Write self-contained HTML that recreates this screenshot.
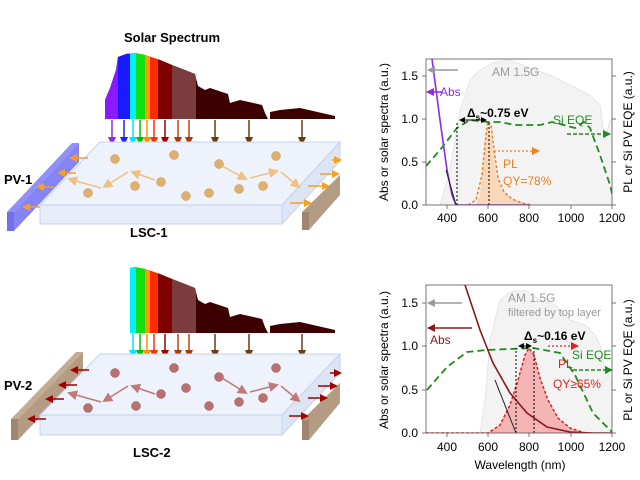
<!DOCTYPE html>
<html><head><meta charset="utf-8"><style>
html,body{margin:0;padding:0;background:#fff;}
svg{display:block;font-family:"Liberation Sans",Arial,sans-serif;}
</style></head><body>
<svg width="640" height="480" viewBox="0 0 640 480" xmlns="http://www.w3.org/2000/svg">
<defs>
<marker id="mo" markerWidth="8" markerHeight="8" refX="6" refY="4" orient="auto" markerUnits="userSpaceOnUse"><path d="M0,0 L8,4 L0,8 z" fill="#f5a020"/></marker>
<marker id="mt" markerWidth="10" markerHeight="10" refX="8" refY="5" orient="auto" markerUnits="userSpaceOnUse"><path d="M0,0 L10,5 L0,10 z" fill="#f0c080"/></marker>
<marker id="mr" markerWidth="8" markerHeight="8" refX="6" refY="4" orient="auto" markerUnits="userSpaceOnUse"><path d="M0,0 L8,4 L0,8 z" fill="#a00000"/></marker>
<marker id="mp" markerWidth="10" markerHeight="10" refX="8" refY="5" orient="auto" markerUnits="userSpaceOnUse"><path d="M0,0 L10,5 L0,10 z" fill="#c07878"/></marker>
<marker id="ag" markerWidth="8" markerHeight="8" refX="7" refY="4" orient="auto" markerUnits="userSpaceOnUse"><path d="M0,0 L8,4 L0,8 z" fill="#999"/></marker>
<marker id="av" markerWidth="8" markerHeight="8" refX="7" refY="4" orient="auto" markerUnits="userSpaceOnUse"><path d="M0,0 L8,4 L0,8 z" fill="#8a2be2"/></marker>
<marker id="ad" markerWidth="8" markerHeight="8" refX="7" refY="4" orient="auto" markerUnits="userSpaceOnUse"><path d="M0,0 L8,4 L0,8 z" fill="#8b1a1a"/></marker>
<marker id="aor" markerWidth="8" markerHeight="8" refX="7" refY="4" orient="auto" markerUnits="userSpaceOnUse"><path d="M0,0 L8,4 L0,8 z" fill="#f08020"/></marker>
<marker id="are" markerWidth="8" markerHeight="8" refX="7" refY="4" orient="auto" markerUnits="userSpaceOnUse"><path d="M0,0 L8,4 L0,8 z" fill="#e02020"/></marker>
<marker id="agr" markerWidth="8" markerHeight="8" refX="7" refY="4" orient="auto" markerUnits="userSpaceOnUse"><path d="M0,0 L8,4 L0,8 z" fill="#1e8c1e"/></marker>
<marker id="ak" markerWidth="6" markerHeight="6" refX="5" refY="3" orient="auto" markerUnits="userSpaceOnUse"><path d="M0,0 L6,3 L0,6 z" fill="#000"/></marker>
<marker id="aks" markerWidth="6" markerHeight="6" refX="1" refY="3" orient="auto" markerUnits="userSpaceOnUse"><path d="M6,0 L0,3 L6,6 z" fill="#000"/></marker>
<clipPath id="env1"><polygon points="105,119 105,100 110,88 116,70 118,57 126,54 135,53 145,55 160,60 172,65 185,70 195,74 198,86 205,90 210,88 228,94 230,103 240,100 262,105 265,113 268,119"/><polygon points="270,119 270,112 280,110 300,108 335,116 335,119"/></clipPath>
<clipPath id="env2"><polygon points="130,333 130,268 135,267 145,269 160,274 172,279 185,284 195,288 198,300 205,304 210,302 228,308 230,317 240,314 262,319 265,327 268,333"/><polygon points="270,333 270,326 280,324 300,322 335,330 335,333"/></clipPath>
<clipPath id="c1"><rect x="426" y="59" width="186" height="146"/></clipPath>
<clipPath id="c2"><rect x="426" y="285" width="186" height="148"/></clipPath>
</defs>

<text x="172" y="42" font-size="13" font-weight="bold" text-anchor="middle">Solar Spectrum</text>
<g clip-path="url(#env1)">
<rect x="100" y="40" width="240" height="80" fill="#3d0000"/>
<rect x="100" y="40" width="18" height="80" fill="#8a1aff"/>
<rect x="118" y="40" width="12" height="80" fill="#1a1aff"/>
<rect x="130" y="40" width="6" height="80" fill="#00f0ff"/>
<rect x="136" y="40" width="9" height="80" fill="#10e010"/>
<rect x="145" y="40" width="5" height="80" fill="#ff9900"/>
<rect x="150" y="40" width="8" height="80" fill="#ff2a00"/>
<rect x="158" y="40" width="14" height="80" fill="#800000"/>
<rect x="172" y="40" width="24" height="80" fill="#7a3c3c"/>
</g>
<g stroke-width="1.5">
<line x1="112" y1="120" x2="112" y2="138" stroke="#8a2be2"/><path d="M108,137 L116,137 L112,146z" fill="#8a2be2"/>
<line x1="124" y1="120" x2="124" y2="138" stroke="#2020ff"/><path d="M120,137 L128,137 L124,146z" fill="#2020ff"/>
<line x1="133" y1="120" x2="133" y2="138" stroke="#00e5ff"/><path d="M129,137 L137,137 L133,146z" fill="#00e5ff"/>
<line x1="140" y1="120" x2="140" y2="138" stroke="#00c000"/><path d="M136,137 L144,137 L140,146z" fill="#00c000"/>
<line x1="147" y1="120" x2="147" y2="138" stroke="#ff9000"/><path d="M143,137 L151,137 L147,146z" fill="#ff9000"/>
<line x1="154" y1="120" x2="154" y2="138" stroke="#ff3000"/><path d="M150,137 L158,137 L154,146z" fill="#ff3000"/>
<line x1="165" y1="120" x2="165" y2="138" stroke="#a00000"/><path d="M161,137 L169,137 L165,146z" fill="#a00000"/>
<line x1="178" y1="120" x2="178" y2="138" stroke="#b04818"/><path d="M174,137 L182,137 L178,146z" fill="#a83a10"/>
<line x1="189" y1="120" x2="189" y2="138" stroke="#b04818"/><path d="M185,137 L193,137 L189,146z" fill="#a83a10"/>
<line x1="215" y1="120" x2="215" y2="138" stroke="#6b3a10"/><path d="M211,137 L219,137 L215,146z" fill="#6b3a10"/>
<line x1="249" y1="120" x2="249" y2="138" stroke="#6b3a10"/><path d="M245,137 L253,137 L249,146z" fill="#6b3a10"/>
<line x1="302" y1="120" x2="302" y2="138" stroke="#6b3a10"/><path d="M298,137 L306,137 L302,146z" fill="#6b3a10"/>
</g>
<polygon points="7,212 72,143 79,143 14,212" fill="#9090f8"/>
<polygon points="7,212 14,212 14,231 7,231" fill="#7070e8"/>
<polygon points="14,212 79,143 79,162 14,231" fill="#8484f4"/>
<polygon points="100,142 340,142 282,205 40,205" fill="#eef2fb" stroke="#c4d2ee"/>
<polygon points="40,205 282,205 282,224 40,224" fill="#e6ecf8" stroke="#c4d2ee"/>
<polygon points="282,205 340,142 340,161 282,224" fill="#dde5f4" stroke="#c4d2ee"/>
<polygon points="302,212 340,175 340,195 309,230 302,230" fill="#b49c84"/>
<polygon points="302,212 309,212 309,230 302,230" fill="#a08670"/>
<text x="4" y="184" font-size="13" font-weight="bold">PV-1</text>
<text x="130" y="237" font-size="13" font-weight="bold">LSC-1</text>
<g fill="#ddb070" stroke="#c89850" stroke-width="0.5">
<circle cx="115" cy="159" r="4.5"/><circle cx="174" cy="155" r="4.5"/><circle cx="219" cy="164" r="4.5"/><circle cx="276" cy="156" r="4.5"/><circle cx="135" cy="186" r="4.5"/><circle cx="161" cy="182" r="4.5"/><circle cx="88" cy="193" r="4.5"/><circle cx="186" cy="196" r="4.5"/><circle cx="209" cy="193" r="4.5"/><circle cx="239" cy="189" r="4.5"/><circle cx="263" cy="186" r="4.5"/>
</g>
<g stroke="#f0c080" stroke-width="1.5" fill="none">
<line x1="155" y1="180" x2="132" y2="172" marker-end="url(#mt)"/>
<line x1="128" y1="172" x2="104" y2="187" marker-end="url(#mt)"/>
<line x1="101" y1="188" x2="69" y2="179" marker-end="url(#mt)"/>
<line x1="222" y1="166" x2="246" y2="179" marker-end="url(#mt)"/>
<line x1="250" y1="178" x2="277" y2="171" marker-end="url(#mt)"/>
<line x1="281" y1="172" x2="299" y2="187" marker-end="url(#mt)"/>
</g>
<g stroke="#f5a020" stroke-width="1.5">
<line x1="88" y1="158" x2="71" y2="158" marker-end="url(#mo)"/>
<line x1="76" y1="173" x2="59" y2="173" marker-end="url(#mo)"/>
<line x1="54" y1="187" x2="38" y2="187" marker-end="url(#mo)"/>
<line x1="40" y1="207" x2="24" y2="207" marker-end="url(#mo)"/>
<line x1="332" y1="160" x2="340" y2="160" marker-end="url(#mo)"/>
<line x1="320" y1="174" x2="338" y2="174" marker-end="url(#mo)"/>
<line x1="308" y1="186" x2="328" y2="186" marker-end="url(#mo)"/>
<line x1="290" y1="203" x2="310" y2="203" marker-end="url(#mo)"/>
</g>

<g clip-path="url(#env2)">
<rect x="100" y="260" width="240" height="80" fill="#3d0000"/>
<rect x="130" y="260" width="6" height="80" fill="#00f0ff"/>
<rect x="136" y="260" width="9" height="80" fill="#10e010"/>
<rect x="145" y="260" width="5" height="80" fill="#ff9900"/>
<rect x="150" y="260" width="8" height="80" fill="#ff2a00"/>
<rect x="158" y="260" width="14" height="80" fill="#800000"/>
<rect x="172" y="260" width="24" height="80" fill="#7a3c3c"/>
</g>
<g stroke-width="1.5">
<line x1="133" y1="334" x2="133" y2="351" stroke="#00e5ff"/><path d="M129,350 L137,350 L133,359z" fill="#00e5ff"/>
<line x1="140" y1="334" x2="140" y2="351" stroke="#00c000"/><path d="M136,350 L144,350 L140,359z" fill="#00c000"/>
<line x1="147" y1="334" x2="147" y2="351" stroke="#ff9000"/><path d="M143,350 L151,350 L147,359z" fill="#ff9000"/>
<line x1="154" y1="334" x2="154" y2="351" stroke="#ff3000"/><path d="M150,350 L158,350 L154,359z" fill="#ff3000"/>
<line x1="165" y1="334" x2="165" y2="351" stroke="#a00000"/><path d="M161,350 L169,350 L165,359z" fill="#a00000"/>
<line x1="178" y1="334" x2="178" y2="351" stroke="#b04818"/><path d="M174,350 L182,350 L178,359z" fill="#a83a10"/>
<line x1="189" y1="334" x2="189" y2="351" stroke="#b04818"/><path d="M185,350 L193,350 L189,359z" fill="#a83a10"/>
<line x1="215" y1="334" x2="215" y2="351" stroke="#6b3a10"/><path d="M211,350 L219,350 L215,359z" fill="#6b3a10"/>
<line x1="249" y1="334" x2="249" y2="351" stroke="#6b3a10"/><path d="M245,350 L253,350 L249,359z" fill="#6b3a10"/>
<line x1="302" y1="334" x2="302" y2="351" stroke="#6b3a10"/><path d="M298,350 L306,350 L302,359z" fill="#6b3a10"/>
</g>
<polygon points="11,419 76,352 83,352 18,419" fill="#c4ac94"/>
<polygon points="11,419 18,419 18,440 11,440" fill="#a08670"/>
<polygon points="18,419 83,352 83,372 18,440" fill="#b49c84"/>
<polygon points="100,354 340,354 282,415 40,415" fill="#eef2fb" stroke="#c4d2ee"/>
<polygon points="40,415 282,415 282,435 40,435" fill="#e6ecf8" stroke="#c4d2ee"/>
<polygon points="282,415 340,354 340,373 282,435" fill="#dde5f4" stroke="#c4d2ee"/>
<polygon points="302,420 340,383 340,403 309,440 302,440" fill="#b49c84"/>
<polygon points="302,420 309,420 309,440 302,440" fill="#a08670"/>
<text x="4" y="390" font-size="13" font-weight="bold">PV-2</text>
<text x="133" y="457" font-size="13" font-weight="bold">LSC-2</text>
<g fill="#b87070" stroke="#a05858" stroke-width="0.5">
<circle cx="115" cy="373" r="4.5"/><circle cx="174" cy="368" r="4.5"/><circle cx="219" cy="377" r="4.5"/><circle cx="276" cy="368" r="4.5"/><circle cx="186" cy="388" r="4.5"/><circle cx="161" cy="394" r="4.5"/><circle cx="88" cy="408" r="4.5"/><circle cx="136" cy="406" r="4.5"/><circle cx="209" cy="406" r="4.5"/><circle cx="239" cy="402" r="4.5"/><circle cx="263" cy="398" r="4.5"/>
</g>
<g stroke="#c07878" stroke-width="1.5" fill="none">
<line x1="155" y1="394" x2="132" y2="386" marker-end="url(#mp)"/>
<line x1="128" y1="386" x2="104" y2="401" marker-end="url(#mp)"/>
<line x1="101" y1="402" x2="69" y2="393" marker-end="url(#mp)"/>
<line x1="222" y1="378" x2="246" y2="393" marker-end="url(#mp)"/>
<line x1="250" y1="392" x2="277" y2="385" marker-end="url(#mp)"/>
<line x1="281" y1="386" x2="299" y2="401" marker-end="url(#mp)"/>
</g>
<g stroke="#a00000" stroke-width="1.5">
<line x1="89" y1="370" x2="72" y2="370" marker-end="url(#mr)"/>
<line x1="77" y1="385" x2="60" y2="385" marker-end="url(#mr)"/>
<line x1="64" y1="399" x2="47" y2="399" marker-end="url(#mr)"/>
<line x1="46" y1="419" x2="29" y2="419" marker-end="url(#mr)"/>
<line x1="330" y1="373" x2="340" y2="373" marker-end="url(#mr)"/>
<line x1="318" y1="386" x2="336" y2="386" marker-end="url(#mr)"/>
<line x1="308" y1="398" x2="326" y2="398" marker-end="url(#mr)"/>
<line x1="289" y1="416" x2="307" y2="416" marker-end="url(#mr)"/>
</g>

<g clip-path="url(#c1)">
<polygon points="426,205 440,205 450,170 460,110 470,80 480,70 495,62 510,60 530,68 550,75 570,85 590,95 600,105 605,140 610,120 620,125 630,150 640,170 645,130 660,140 680,150 700,165 720,150 740,130 760,200 770,180 790,160 800,150 812,145 812,205" fill="#f3f3f3" stroke="#e2e2e2" stroke-width="0.8"/>
<polygon points="476,205 480,195 484,160 488,122 492,140 496,175 502,190 510,198 520,202 530,205" fill="#f8d8b8"/>
<polyline points="468,205 476,200 482,175 486,135 488,121 491,125 494,150 498,178 504,192 512,199 522,203 532,205" fill="none" stroke="#f08020" stroke-width="1.5" stroke-dasharray="3,2"/>
<polyline points="432,59 440,120 447,170 452,195 456,205 530,205" fill="none" stroke="#8a2be2" stroke-width="1.6"/>
<line x1="446" y1="170" x2="456" y2="205" stroke="#222" stroke-width="1"/>
<polyline points="426,166 440,150 457,128 470,120 488,122 500,122 515,125 540,125 552,122 560,124 575,128 584,122 590,128 600,155 610,185 615,205" fill="none" stroke="#1e8c1e" stroke-width="1.8" stroke-dasharray="7,4"/>
</g>
<line x1="457" y1="205" x2="457" y2="121" stroke="#000" stroke-dasharray="2,2"/>
<line x1="489" y1="205" x2="489" y2="121" stroke="#000" stroke-dasharray="2,2"/>
<line x1="460" y1="120" x2="486" y2="120" stroke="#000" marker-end="url(#ak)" marker-start="url(#aks)"/>
<text x="467" y="117" font-size="12" font-weight="bold">Δ<tspan font-size="8" dy="3">s</tspan><tspan dy="-3">~0.75 eV</tspan></text>
<line x1="458" y1="70" x2="428" y2="70" stroke="#999" stroke-width="1.5" marker-end="url(#ag)"/>
<text x="492" y="76" font-size="12" fill="#999">AM 1.5G</text>
<line x1="442" y1="92" x2="427" y2="92" stroke="#8a2be2" stroke-width="1.5" marker-end="url(#av)"/>
<text x="440" y="96" font-size="12" fill="#8a2be2">Abs</text>
<line x1="494" y1="151" x2="539" y2="151" stroke="#f08020" stroke-width="1.3" stroke-dasharray="2,2" marker-end="url(#aor)"/>
<text x="503" y="168" font-size="12" fill="#f08020">PL</text>
<text x="503" y="185" font-size="12" fill="#f08020">QY=78%</text>
<line x1="567" y1="134" x2="610" y2="134" stroke="#1e8c1e" stroke-width="1.5" stroke-dasharray="4,2" marker-end="url(#agr)"/>
<text x="553" y="124" font-size="12" fill="#1e8c1e">Si EQE</text>
<rect x="426" y="59" width="186" height="146" fill="none" stroke="#555" stroke-width="0.8"/>
<g stroke="#555" stroke-width="0.8">
<line x1="426" y1="76" x2="422" y2="76"/><line x1="426" y1="119" x2="422" y2="119"/><line x1="426" y1="162" x2="422" y2="162"/><line x1="426" y1="205" x2="422" y2="205"/>
<line x1="612" y1="76" x2="616" y2="76"/><line x1="612" y1="119" x2="616" y2="119"/><line x1="612" y1="162" x2="616" y2="162"/><line x1="612" y1="205" x2="616" y2="205"/>
<line x1="447" y1="205" x2="447" y2="209"/><line x1="488" y1="205" x2="488" y2="209"/><line x1="529" y1="205" x2="529" y2="209"/><line x1="571" y1="205" x2="571" y2="209"/><line x1="612" y1="205" x2="612" y2="209"/>
</g>
<g font-size="12" text-anchor="end"><text x="418" y="80">1.5</text><text x="418" y="123">1.0</text><text x="418" y="166">0.5</text><text x="418" y="209">0.0</text></g>
<g font-size="12" text-anchor="middle"><text x="447" y="222">400</text><text x="488" y="222">600</text><text x="529" y="222">800</text><text x="571" y="222">1000</text><text x="612" y="222">1200</text></g>
<text transform="translate(388,132) rotate(-90)" font-size="12" text-anchor="middle">Abs or solar spectra (a.u.)</text>
<text transform="translate(632,132) rotate(-90)" font-size="12" text-anchor="middle">PL or Si PV EQE (a.u.)</text>

<g clip-path="url(#c2)">
<polygon points="426,433 480,433 485,400 490,340 500,300 510,292 525,290 540,300 555,305 570,320 585,325 595,335 600,345 605,370 612,380 612,433" fill="#f3f3f3" stroke="#e2e2e2" stroke-width="0.8"/>
<polygon points="488,433 500,425 510,405 518,380 525,355 529,348 534,355 540,378 548,400 558,418 570,428 585,433" fill="#f4b4b4"/>
<polyline points="426,433 488,433 500,425 510,405 518,380 525,355 529,348 534,355 540,378 548,400 558,418 570,428 585,433" fill="none" stroke="#e02020" stroke-width="1.5" stroke-dasharray="3,2"/>
<polyline points="465,285 480,330 493,363 510,393 527,413 547,427 570,432 593,433 612,433" fill="none" stroke="#8b1a1a" stroke-width="1.6"/>
<line x1="495" y1="380" x2="516" y2="433" stroke="#222" stroke-width="1"/>
<polyline points="427,390 447,367 467,352 487,350 533,348 560,353 575,375 593,413 613,433" fill="none" stroke="#1e8c1e" stroke-width="1.8" stroke-dasharray="7,4"/>
</g>
<line x1="516" y1="433" x2="516" y2="348" stroke="#000" stroke-dasharray="2,2"/>
<line x1="534" y1="433" x2="534" y2="348" stroke="#000" stroke-dasharray="2,2"/>
<line x1="519" y1="346" x2="531" y2="346" stroke="#000" marker-end="url(#ak)" marker-start="url(#aks)"/>
<text x="524" y="340" font-size="12" font-weight="bold">Δ<tspan font-size="8" dy="3">s</tspan><tspan dy="-3">~0.16 eV</tspan></text>
<line x1="462" y1="303" x2="428" y2="303" stroke="#999" stroke-width="1.5" marker-end="url(#ag)"/>
<text x="508" y="302" font-size="12" fill="#999">AM 1.5G</text>
<text x="508" y="316" font-size="11" fill="#999">filtered by top layer</text>
<line x1="472" y1="328" x2="428" y2="328" stroke="#8b1a1a" stroke-width="1.5" marker-end="url(#ad)"/>
<text x="430" y="344" font-size="12" fill="#8b1a1a">Abs</text>
<line x1="548" y1="346" x2="578" y2="346" stroke="#e02020" stroke-width="1.3" stroke-dasharray="2,2" marker-end="url(#are)"/>
<text x="558" y="368" font-size="12" fill="#e02020">PL</text>
<text x="553" y="388" font-size="12" fill="#e02020">QY≥65%</text>
<line x1="573" y1="370" x2="612" y2="370" stroke="#1e8c1e" stroke-width="1.5" stroke-dasharray="4,2" marker-end="url(#agr)"/>
<text x="572" y="359" font-size="12" fill="#1e8c1e">Si EQE</text>
<rect x="426" y="285" width="186" height="148" fill="none" stroke="#555" stroke-width="0.8"/>
<g stroke="#555" stroke-width="0.8">
<line x1="426" y1="303" x2="422" y2="303"/><line x1="426" y1="346" x2="422" y2="346"/><line x1="426" y1="390" x2="422" y2="390"/><line x1="426" y1="433" x2="422" y2="433"/>
<line x1="612" y1="303" x2="616" y2="303"/><line x1="612" y1="346" x2="616" y2="346"/><line x1="612" y1="390" x2="616" y2="390"/><line x1="612" y1="433" x2="616" y2="433"/>
<line x1="447" y1="433" x2="447" y2="437"/><line x1="488" y1="433" x2="488" y2="437"/><line x1="529" y1="433" x2="529" y2="437"/><line x1="571" y1="433" x2="571" y2="437"/><line x1="612" y1="433" x2="612" y2="437"/>
</g>
<g font-size="12" text-anchor="end"><text x="418" y="307">1.5</text><text x="418" y="350">1.0</text><text x="418" y="394">0.5</text><text x="418" y="437">0.0</text></g>
<g font-size="12" text-anchor="middle"><text x="447" y="451">400</text><text x="488" y="451">600</text><text x="529" y="451">800</text><text x="571" y="451">1000</text><text x="612" y="451">1200</text></g>
<text x="520" y="469" font-size="12" text-anchor="middle">Wavelength (nm)</text>
<text transform="translate(388,360) rotate(-90)" font-size="12" text-anchor="middle">Abs or solar spectra (a.u.)</text>
<text transform="translate(632,360) rotate(-90)" font-size="12" text-anchor="middle">PL or Si PV EQE (a.u.)</text>
</svg>
</body></html>
